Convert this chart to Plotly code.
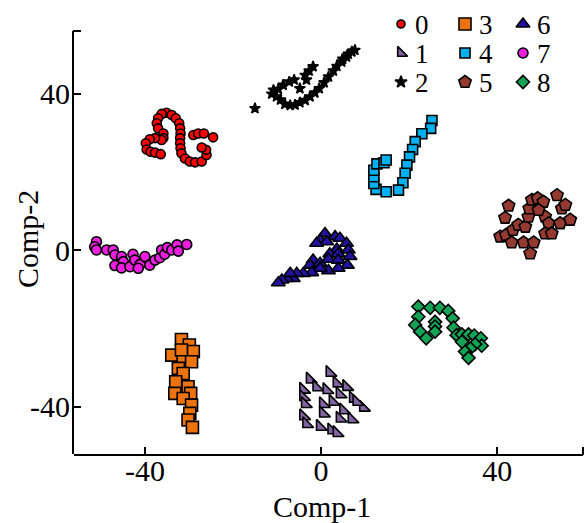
import plotly.graph_objects as go

# ---- cluster coordinates (Comp-1, Comp-2) ----
c0_x = [-35.1, -36.2, -37.0, -37.3, -37.0, -35.8, -35.8, -36.2, -37.7, -38.9, -39.8, -39.6,
        -38.7, -37.7, -36.4, -33.9, -33.0, -32.2, -32.0, -31.9, -32.0, -32.0, -31.9, -31.7,
        -30.9, -29.8, -28.6, -27.1, -26.0, -26.1, -27.1, -29.0, -27.9, -26.6, -24.5]
c0_y = [35.2, 34.9, 33.8, 32.5, 31.2, 29.9, 28.7, 28.2, 28.7, 28.4, 27.4, 25.8,
        25.2, 25.0, 24.6, 34.6, 33.8, 32.5, 31.2, 29.9, 28.7, 27.4, 26.1, 24.8,
        23.5, 22.7, 22.5, 22.7, 24.4, 25.7, 26.3, 29.5, 29.9, 29.9, 28.9]

c1_x = [2.0, -2.5, 3.6, 5.8, -1.0, 1.3, -4.0, 4.3, 7.3, -4.0, -3.6, 0.5,
        2.7, 5.1, 9.6, 0.5, -4.0, 4.3, 7.0, -3.3, -0.2, 2.4, 3.6, 8.1]
c1_y = [-31.3, -33.0, -34.0, -34.9, -35.0, -35.7, -35.6, -36.8, -37.9, -37.5, -39.3, -39.3,
        -38.7, -40.9, -40.2, -41.7, -42.4, -43.0, -43.2, -44.4, -45.1, -46.0, -46.7, -38.7]

c2_x = [-15.0, -10.8, -11.2, -10.1, -9.2, -8.2, -7.0, -5.9, -4.8, -3.6, -2.5, -1.4,
        -0.4, 0.7, 1.7, 2.8, 3.6, 4.7, 5.8, 7.0, 7.7, 6.2, 4.9, -9.7,
        -8.6, -7.2, -6.1, -4.8, -3.6, -2.7, -1.8, -3.3]
c2_y = [36.3, 41.0, 40.0, 39.3, 38.5, 37.4, 37.1, 37.2, 37.8, 38.4, 39.3, 40.3,
        41.4, 42.9, 44.4, 45.9, 47.1, 48.2, 49.5, 50.8, 51.2, 50.2, 48.9, 41.2,
        42.3, 43.1, 43.6, 41.4, 44.8, 45.9, 47.0, 43.6]

c3_x = [-31.7, -29.9, -29.0, -33.9, -31.7, -31.3, -29.4, -32.4, -31.3, -33.0, -30.2, -29.6,
        -33.2, -31.3, -29.4, -29.8, -30.2, -29.2]
c3_y = [-22.8, -24.2, -25.9, -26.8, -25.5, -28.5, -28.5, -30.2, -31.5, -33.6, -34.9, -36.6,
        -36.6, -37.9, -39.6, -41.7, -43.4, -45.3]

c4_x = [25.2, 24.9, 22.9, 21.4, 20.8, 20.1, 19.5, 19.1, 18.6, 17.6, 14.8, 12.5,
        12.0, 12.0, 12.0, 12.7, 14.3, 14.8]
c4_y = [33.2, 31.2, 29.8, 27.8, 25.8, 23.9, 21.8, 19.7, 17.3, 15.4, 15.0, 15.6,
        17.1, 18.8, 20.5, 22.1, 22.4, 23.1]

c5_x = [42.6, 41.8, 40.7, 42.0, 43.6, 44.8, 46.4, 43.3, 46.0, 48.3, 47.5, 47.1,
        47.3, 47.9, 49.2, 50.5, 50.9, 51.7, 50.9, 52.4, 54.3, 56.6, 54.7, 55.5,
        53.6, 49.4]
c5_y = [11.4, 8.3, 3.5, 3.9, 5.2, 6.5, 6.0, 2.0, 2.0, 2.0, -0.8, 8.6,
        10.7, 12.9, 13.3, 12.4, 8.6, 6.9, 4.3, 4.3, 6.9, 7.8, 10.7, 11.6,
        14.1, 10.3]

c6_x = [0.9, -0.2, 3.2, 4.3, 1.3, -1.0, 5.8, 6.2, 3.6, 2.0, 3.9, 6.6,
        -1.8, -2.5, -0.2, 1.7, 3.9, 6.0, 1.7, 3.9, -0.2, -2.1, -4.0, -5.5,
        -6.3, -7.8, -8.9, -9.7, -7.0]
c6_y = [4.3, 2.6, 3.5, 3.1, 2.2, 1.8, 1.8, 0.1, 0.3, -0.9, -0.9, -1.6,
        -2.5, -3.8, -3.3, -2.3, -2.5, -3.8, -5.2, -4.6, -4.6, -5.7, -5.9, -5.9,
        -7.2, -7.2, -7.6, -8.3, -5.9]

c7_x = [-51.0, -51.4, -51.0, -48.7, -47.2, -46.8, -45.3, -44.9, -46.8, -45.3, -43.4, -42.7,
        -42.3, -41.1, -41.5, -40.0, -38.9, -37.7, -36.6, -36.2, -35.5, -34.9, -33.9, -32.7,
        -32.4, -30.5]
c7_y = [2.2, 0.9, 0.1, 0.1, 0.1, -1.2, -1.6, -2.9, -3.9, -4.5, -4.2, -1.0,
        -2.5, -3.6, -4.6, -1.6, -3.8, -2.5, -1.9, 0.1, -1.0, 0.7, 0.1, 1.4,
        -0.2, 1.5]

c8_x = [22.1, 24.8, 27.0, 28.9, 29.9, 30.1, 30.8, 32.0, 33.5, 34.8, 36.3, 36.5,
        35.0, 33.9, 32.7, 33.5, 32.0, 22.1, 21.4, 22.5, 23.9, 25.9, 25.9, 25.9]
c8_y = [-14.4, -14.7, -14.7, -15.5, -17.4, -19.8, -21.7, -21.5, -21.5, -21.8, -22.5, -24.4,
        -24.0, -25.1, -25.9, -27.5, -23.4, -17.0, -19.1, -20.8, -22.5, -18.3, -19.5, -20.8]

class_labels = ["0", "1", "2", "3", "4", "5", "6", "7", "8"]
xs = [c0_x, c1_x, c2_x, c3_x, c4_x, c5_x, c6_x, c7_x, c8_x]
ys = [c0_y, c1_y, c2_y, c3_y, c4_y, c5_y, c6_y, c7_y, c8_y]

tick_vals = [-40, 0, 40]
tick_text = ["-40", "0", "40"]
x_title = "Comp-1"
y_title = "Comp-2"

# ---- marker styles per class ----
symbols = ["circle", "triangle-sw", "star", "square", "square", "pentagon",
           "triangle-up", "circle", "diamond"]
colors = ["#FF0000", "#8064A2", "#000000", "#EC730E", "#00B0F0", "#953A30",
          "#22129E", "#EE1EE0", "#12A356"]
sizes = [9, 12, 8, 12, 10, 13, 12, 10, 10]

FONT = "Liberation Serif"
W, H = 586, 523
ML, MR, MB = 74, 3, 69
AXIS_TOP_PX = 31             # pixel row where the y axis line stops
PW, PH = W - ML - MR, H - MB  # plot area size (it reaches the top edge)

X_RANGE = [-56.1, 59.5]
Y_LOW, Y_AXIS_TOP = -52.1, 56.1
# plot area runs to the very top so the key can sit inside it
px_per_y = (PH - AXIS_TOP_PX) / (Y_AXIS_TOP - Y_LOW)
Y_RANGE = [Y_LOW, Y_AXIS_TOP + AXIS_TOP_PX / px_per_y]

fig = go.Figure()
for lab, x, y, sym, col, sz in zip(class_labels, xs, ys, symbols, colors, sizes):
    fig.add_trace(go.Scatter(
        x=x, y=y, mode="markers", name=lab, showlegend=False,
        marker=dict(symbol=sym, color=col, size=sz,
                    line=dict(color="black", width=1.6)),
    ))

# ---- key: three columns, drawn on a pixel-scaled overlay axis ----
key_col_x = [401, 465, 523]
key_row_y = [24, 53, 82]
key_text_dx = 13
key_sizes = [8, 11, 9, 12, 10, 13, 12, 10, 10]
for i, (lab, sym, col, sz) in enumerate(zip(class_labels, symbols, colors, key_sizes)):
    cx = key_col_x[i // 3]
    cy = key_row_y[i % 3]
    fig.add_trace(go.Scatter(
        x=[cx], y=[cy], xaxis="x2", yaxis="y2", mode="markers",
        showlegend=False, hoverinfo="skip",
        marker=dict(symbol=sym, color=col, size=sz,
                    line=dict(color="black", width=1.6)),
    ))
    fig.add_annotation(x=cx + key_text_dx, y=cy + 1, xref="x2", yref="y2", text=lab,
                       showarrow=False, xanchor="left", yanchor="middle",
                       borderpad=0, font=dict(family=FONT, size=27, color="black"))

axis_common = dict(
    showgrid=False, zeroline=False,
    ticks="inside", ticklen=7, tickwidth=2, tickcolor="black",
    tickfont=dict(family=FONT, size=30, color="black"),
    tickmode="array", tickvals=tick_vals, ticktext=tick_text,
)

fig.update_layout(
    width=W, height=H,
    margin=dict(l=ML, r=MR, t=0, b=MB),
    paper_bgcolor="white", plot_bgcolor="white",
    font=dict(family=FONT, size=30, color="black"),
    xaxis=dict(range=X_RANGE, showline=True, linecolor="black", linewidth=2,
               ticklabelstandoff=-11, **axis_common),
    yaxis=dict(range=Y_RANGE, showline=False, ticklabelstandoff=3, **axis_common),
    xaxis2=dict(overlaying="x", range=[ML, W - MR], visible=False, fixedrange=True),
    yaxis2=dict(overlaying="y", range=[PH, 0], visible=False, fixedrange=True),
    showlegend=False,
)

# axis titles
fig.add_annotation(x=(321.5 - ML) / PW, y=(PH - 507) / PH, xref="paper", yref="paper",
                   text=x_title, showarrow=False, xanchor="center", yanchor="middle",
                   font=dict(family=FONT, size=30, color="black"))
fig.add_annotation(x=(27 - ML) / PW, y=(PH - 239) / PH, xref="paper", yref="paper",
                   text=y_title, textangle=-90, showarrow=False,
                   xanchor="center", yanchor="middle",
                   font=dict(family=FONT, size=30, color="black"))

# y axis line stops below the key area, with a short cap at its top
edge = -1 / PW
fig.add_shape(type="line", xref="paper", yref="y", x0=edge, x1=edge,
              y0=Y_RANGE[0], y1=Y_AXIS_TOP, line=dict(color="black", width=2))
fig.add_shape(type="line", xref="paper", yref="y", x0=edge, x1=7 / PW,
              y0=Y_AXIS_TOP, y1=Y_AXIS_TOP, line=dict(color="black", width=2))
# short cap at the right end of the x axis line
fig.add_shape(type="line", xref="paper", yref="paper", x0=1, x1=1, y0=-1 / PH, y1=7 / PH,
              line=dict(color="black", width=2))

fig.write_html("out.html")
